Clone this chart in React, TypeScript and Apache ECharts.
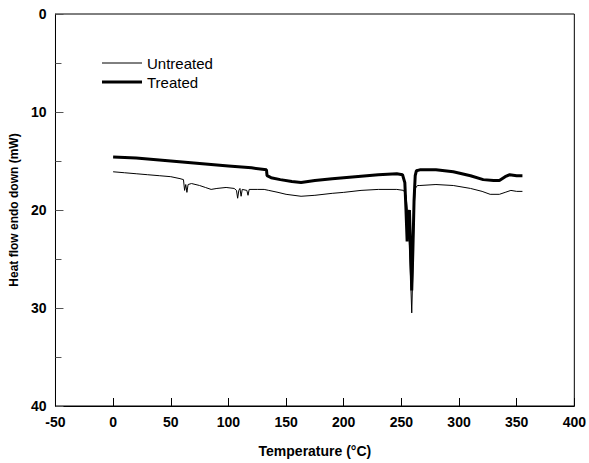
import React, { useEffect, useRef } from "react";
import * as echarts from "echarts";

const untreatedT = [0, 10, 20, 30, 40, 50, 58, 61, 62, 63, 64, 65, 68, 75, 80, 85, 90, 98, 105, 107, 108, 109, 110, 111, 112, 116, 117, 118, 125, 131, 135, 143, 150, 163, 175, 190, 200, 215, 230, 246, 252, 254, 256, 258, 259, 260, 261, 262, 264, 266, 280, 295, 310, 320, 327, 335, 340, 345, 350, 355];
const untreatedV = [16.1, 16.2, 16.3, 16.4, 16.5, 16.6, 16.8, 16.9, 18.0, 17.4, 18.2, 17.4, 17.3, 17.5, 17.7, 17.9, 17.8, 17.7, 17.8, 18.0, 18.8, 18.0, 17.8, 18.6, 17.9, 18.0, 18.5, 17.9, 17.9, 17.9, 18.0, 18.2, 18.4, 18.6, 18.5, 18.3, 18.2, 18.0, 17.9, 17.9, 18.0, 18.5, 21, 27, 30.5, 26, 20, 17.8, 17.5, 17.5, 17.4, 17.5, 17.8, 18.1, 18.4, 18.4, 18.2, 18.0, 18.1, 18.1];

const treatedT = [0, 20, 40, 60, 80, 100, 120, 133, 133.5, 137, 145, 155, 163, 175, 190, 210, 230, 246, 251, 253, 254, 255, 256, 257, 258, 259, 260, 261, 262, 263, 266, 280, 295, 310, 321, 330, 335, 340, 344, 350, 355];
const treatedV = [14.6, 14.7, 14.9, 15.1, 15.3, 15.5, 15.7, 15.9, 16.5, 16.7, 16.9, 17.1, 17.2, 17.0, 16.8, 16.6, 16.4, 16.3, 16.4, 17.2, 20, 23.2, 21, 20, 24, 28.2, 24, 19, 16.5, 16.0, 15.9, 15.9, 16.1, 16.5, 16.9, 17.0, 17.0, 16.6, 16.4, 16.5, 16.5];

const seriesNames = ["Untreated", "Treated"];
const xTicks = { min: -50, max: 400, interval: 50 };
const yTicks = { min: 0, max: 40, interval: 10 };

const FONT = "'Liberation Sans', Arial, sans-serif";

export default function App() {
  const ref = useRef<HTMLDivElement>(null);
  useEffect(() => {
    if (!ref.current) return;
    const chart = echarts.init(ref.current, null, { renderer: "svg" });
    chart.setOption({
      animation: false,
      backgroundColor: "#ffffff",
      textStyle: { fontFamily: FONT, color: "#000" },
      grid: { left: 53, right: 14, top: 14, bottom: 55, show: true, borderColor: "#000", borderWidth: 1 },
      graphic: [
        { type: "line", shape: { x1: 102, y1: 63, x2: 142, y2: 63 }, style: { stroke: "#000", lineWidth: 1 } },
        { type: "text", x: 147, y: 63, style: { text: seriesNames[0], fill: "#000", font: `15px ${FONT}`, verticalAlign: "middle" } },
        { type: "line", shape: { x1: 102, y1: 82, x2: 142, y2: 82 }, style: { stroke: "#000", lineWidth: 3 } },
        { type: "text", x: 147, y: 82, style: { text: seriesNames[1], fill: "#000", font: `15px ${FONT}`, verticalAlign: "middle" } },
      ],
      xAxis: {
        type: "value",
        min: xTicks.min,
        max: xTicks.max,
        interval: xTicks.interval,
        name: "Temperature (°C)",
        nameLocation: "middle",
        nameGap: 38,
        nameTextStyle: { fontFamily: FONT, fontSize: 14, fontWeight: "bold", color: "#000" },
        axisLine: { onZero: false, lineStyle: { color: "#000", width: 1 } },
        axisTick: { inside: true, length: 8, lineStyle: { color: "#000" } },
        axisLabel: { fontFamily: FONT, fontSize: 14, fontWeight: "bold", color: "#000", margin: 9 },
        splitLine: { show: false },
      },
      yAxis: {
        type: "value",
        inverse: true,
        min: yTicks.min,
        max: yTicks.max,
        interval: yTicks.interval,
        name: "Heat flow endo down (mW)",
        nameLocation: "middle",
        nameGap: 32,
        nameTextStyle: { fontFamily: FONT, fontSize: 12, fontWeight: "bold", color: "#000" },
        axisLine: { onZero: false, lineStyle: { color: "#000", width: 1 } },
        axisTick: { inside: true, length: 8, lineStyle: { color: "#555" } },
        minorTick: { show: true, splitNumber: 2, length: 6, lineStyle: { color: "#555" } },
        axisLabel: { fontFamily: FONT, fontSize: 14, fontWeight: "bold", color: "#000", margin: 9 },
        splitLine: { show: false },
      },
      series: [
        {
          name: seriesNames[0],
          type: "line",
          symbol: "none",
          data: untreatedT.map((t, i) => [t, untreatedV[i]]),
          lineStyle: { color: "#000", width: 1 },
          itemStyle: { color: "#000" },
        },
        {
          name: seriesNames[1],
          type: "line",
          symbol: "none",
          data: treatedT.map((t, i) => [t, treatedV[i]]),
          lineStyle: { color: "#000", width: 3 },
          itemStyle: { color: "#000" },
        },
      ],
    });
    return () => chart.dispose();
  }, []);
  return <div ref={ref} style={{ width: 589, height: 463, position: "absolute", left: 0, top: 0 }} />;
}
